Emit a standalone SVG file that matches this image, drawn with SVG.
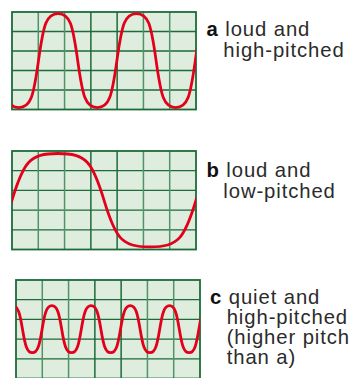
<svg xmlns="http://www.w3.org/2000/svg" width="353" height="378" viewBox="0 0 353 378">
<style>
.bg{fill:#dfeddf;stroke:none}
.hl{fill:none;stroke:#1c6b38;stroke-width:1.3}
.vl{fill:none;stroke:#4f9366;stroke-width:1.5}
.vd{fill:none;stroke:#1c6b38;stroke-width:1.5}
.bd{fill:none;stroke:#1c6b38;stroke-width:1.8}
.wave{fill:none;stroke:#e2001a;stroke-width:2.8;stroke-linejoin:round}
.t{font-family:"Liberation Sans",Arial,sans-serif;font-size:20.3px;fill:#2b2b2b;letter-spacing:0.9px}
.k{font-weight:bold;fill:#111}
</style>
<defs>
<clipPath id="ca"><rect x="12" y="12" width="184" height="97.5"/></clipPath>
<clipPath id="cb"><rect x="12" y="151" width="184" height="98.5"/></clipPath>
<clipPath id="cc"><rect x="16" y="280" width="184" height="98.5"/></clipPath>
</defs>

<g id="panel-a">
<rect class="bg" x="12" y="12" width="184" height="97.5"/>
<path class="hl" d="M12,31.5H196M12,51H196M12,70.5H196M12,90H196"/>
<path class="vl" d="M38.29,12V109.5M64.57,12V109.5M143.43,12V109.5M169.71,12V109.5"/>
<path class="vd" d="M90.86,12V109.5M117.14,12V109.5"/>
<rect class="bd" x="12" y="12" width="184" height="97.5"/>
<path class="wave" clip-path="url(#ca)" d="M-0.7,60.6 c5.1,36.66 7.84,47 19.6,47 s14.5,-10.34 19.6,-47 s7.84,-47 19.6,-47 s14.5,10.34 19.6,47 s7.84,47 19.6,47 s14.5,-10.34 19.6,-47 s7.84,-47 19.6,-47 s14.5,10.34 19.6,47 s7.84,47 19.6,47 s14.5,-10.34 19.6,-47 s7.84,-47 19.6,-47"/>
<text class="t" x="206.5" y="36"><tspan class="k">a</tspan> loud and</text>
<text class="t" x="223.3" y="57">high-pitched</text>
</g>

<g id="panel-b">
<rect class="bg" x="12" y="151" width="184" height="98.5"/>
<path class="hl" d="M12,170.7H196M12,190.4H196M12,210.1H196M12,229.8H196"/>
<path class="vl" d="M38.29,151V249.5M64.57,151V249.5M143.43,151V249.5M169.71,151V249.5"/>
<path class="vd" d="M90.86,151V249.5M117.14,151V249.5"/>
<rect class="bd" x="12" y="151" width="184" height="98.5"/>
<path class="wave" clip-path="url(#cb)" d="M-80,200.2 c11.5,38.3 17.48,46.7 46,46.7 s34.5,-8.4 46,-46.7 s17.48,-46.7 46,-46.7 s34.5,8.4 46,46.7 s17.48,46.7 46,46.7 s34.5,-8.4 46,-46.7 s17.48,-46.7 46,-46.7"/>
<text class="t" x="206.5" y="176.5"><tspan class="k">b</tspan> loud and</text>
<text class="t" x="223.3" y="197.5">low-pitched</text>
</g>

<g id="panel-c">
<rect class="bg" x="16" y="280" width="184" height="98.5"/>
<path class="hl" d="M16,299.7H200M16,319.4H200M16,339.1H200M16,358.8H200"/>
<path class="vl" d="M42.29,280V378.5M68.57,280V378.5M147.43,280V378.5M173.71,280V378.5"/>
<path class="vd" d="M94.86,280V378.5M121.14,280V378.5"/>
<rect class="bd" x="16" y="280" width="184" height="98.5"/>
<path class="wave" clip-path="url(#cc)" d="M2.9,329.2 c2.646,-15.98 4.41,-23.5 9.8,-23.5 s7.154,7.52 9.8,23.5 s4.41,23.5 9.8,23.5 s7.154,-7.52 9.8,-23.5 s4.41,-23.5 9.8,-23.5 s7.154,7.52 9.8,23.5 s4.41,23.5 9.8,23.5 s7.154,-7.52 9.8,-23.5 s4.41,-23.5 9.8,-23.5 s7.154,7.52 9.8,23.5 s4.41,23.5 9.8,23.5 s7.154,-7.52 9.8,-23.5 s4.41,-23.5 9.8,-23.5 s7.154,7.52 9.8,23.5 s4.41,23.5 9.8,23.5 s7.154,-7.52 9.8,-23.5 s4.41,-23.5 9.8,-23.5 s7.154,7.52 9.8,23.5 s4.41,23.5 9.8,23.5 s7.154,-7.52 9.8,-23.5 s4.41,-23.5 9.8,-23.5"/>
<text class="t" x="210" y="304"><tspan class="k">c</tspan> quiet and</text>
<text class="t" x="226.7" y="324">high-pitched</text>
<text class="t" x="226.7" y="344">(higher pitch</text>
<text class="t" x="226.7" y="364">than a)</text>
</g>
</svg>
